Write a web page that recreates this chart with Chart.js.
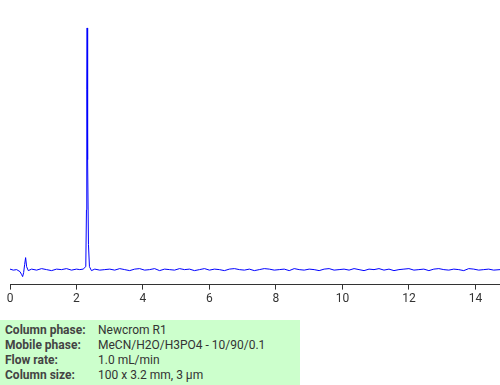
<!DOCTYPE html>
<html>
<head>
<meta charset="utf-8">
<script src="https://cdn.jsdelivr.net/npm/chart.js@4/dist/chart.umd.min.js"></script>
<style>
  body { margin: 0; width: 500px; height: 385px; background: #fff; position: relative; overflow: hidden; font-family: Roboto, "Open Sans", sans-serif; }
  #wrap { position: absolute; left: 0; top: 0; width: 500px; height: 308px; }
  #info { position: absolute; left: 0; top: 320px; width: 300px; height: 65px; background: #ccffcc; font-size: 12px; color: #333; }
  #info table { border-collapse: collapse; margin: 3px 0 0 5px; }
  #info td { padding: 0; height: 15px; line-height: 15px; }
  #info td.k { font-weight: bold; width: 93px; color: #444; }
</style>
</head>
<body>
<div id="wrap"><canvas id="chart"></canvas></div>
<div id="info">
  <table>
    <tr><td class="k">Column phase:</td><td>Newcrom R1</td></tr>
    <tr><td class="k">Mobile phase:</td><td>MeCN/H2O/H3PO4 - 10/90/0.1</td></tr>
    <tr><td class="k">Flow rate:</td><td>1.0 mL/min</td></tr>
    <tr><td class="k">Column size:</td><td>100 x 3.2 mm, 3 µm</td></tr>
  </table>
</div>
<script>
// retention time (min), early part incl. injection dip and main peak
const timesEarly = [0, 0.1, 0.2, 0.3, 0.35, 0.38, 0.41, 0.44, 0.47, 0.5, 0.55, 0.65, 0.8, 0.95, 1.1, 1.25, 1.4, 1.55, 1.7, 1.85,
  2.0, 2.1, 2.2, 2.28, 2.30, 2.31, 2.32, 2.33, 2.34, 2.36, 2.39, 2.45, 2.55, 2.7, 2.85];
const signalEarly = [0.5, -0.5, 0, -2, -5, -7, -3, 5, 12, 3, -1, 0.5, -0.5, 1, 0, -1, 0.5, 0, 1, -0.5,
  0.5, 0, 0.5, 3, 60, 180, 242, 200, 110, 25, 3, -1, 0.5, -0.5, 0];

// baseline after the peak
const timesLate = [3.0, 3.15, 3.3, 3.45, 3.6, 3.75, 3.9, 4.05, 4.2, 4.35, 4.5, 4.65, 4.8, 4.95, 5.1, 5.25, 5.4, 5.55, 5.7, 5.85,
  6.0, 6.15, 6.3, 6.45, 6.6, 6.75, 6.9, 7.05, 7.2, 7.35, 7.5, 7.65, 7.8, 7.95, 8.1, 8.25, 8.4, 8.55, 8.7, 8.85,
  9.0, 9.15, 9.3, 9.45, 9.6, 9.75, 9.9, 10.05, 10.2, 10.35, 10.5, 10.65, 10.8, 10.95, 11.1, 11.25, 11.4, 11.55, 11.7, 11.85,
  12.0, 12.15, 12.3, 12.45, 12.6, 12.75, 12.9, 13.05, 13.2, 13.35, 13.5, 13.65, 13.8, 13.95, 14.1, 14.25, 14.4, 14.55, 14.74];
const signalLate = [0.5, -0.5, 1, 0, -1, 0.5, 1, -0.5, 0, 1, -1, 0.5, 0, -0.5, 1, 0, 0.5, -1, 0, 1,
  -0.5, 0.5, 0, -1, 0.5, 1, 0, -0.5, 0.5, -1, 0, 1, 0.5, -0.5, 0, 0.5, -1, 1, 0, -0.5,
  0.5, 0, -1, 0.5, 1, -0.5, 0, 0.5, -0.5, 1, 0, -1, 0.5, 0, 1, -0.5, 0.5, -1, 0, 0.5,
  1, -0.5, 0, 0.5, -1, 0.5, 1, 0, -0.5, 0.5, 0, -1, 1, 0.5, -0.5, 0, 0.5, -0.5, 0];

const xTicks = [0, 2, 4, 6, 8, 10, 12, 14];

const times = timesEarly.concat(timesLate);
const signal = signalEarly.concat(signalLate);
const points = times.map((t, i) => ({ x: t, y: signal[i] }));

const ctx = document.getElementById("chart").getContext("2d");
new Chart(ctx, {
  type: "line",
  data: {
    datasets: [{
      data: points,
      borderColor: "#0000ff",
      borderWidth: 1,
      pointRadius: 0,
      tension: 0,
      fill: false
    }]
  },
  options: {
    responsive: true,
    maintainAspectRatio: false,
    animation: false,
    layout: { padding: { left: 10, right: 0, top: 0, bottom: 0 } },
    plugins: { legend: { display: false }, tooltip: { enabled: false } },
    scales: {
      x: {
        type: "linear",
        min: 0,
        max: 14.74,
        afterBuildTicks: (axis) => { axis.ticks = xTicks.map(v => ({ value: v })); },
        ticks: { color: "#333", font: { family: "Roboto", size: 12 }, padding: 2, maxRotation: 0 },
        grid: { drawOnChartArea: false, drawTicks: true, tickLength: 5, color: "#333" },
        border: { color: "#333", width: 1 }
      },
      y: {
        display: false,
        min: -15,
        max: 270
      }
    }
  }
});
</script>
</body>
</html>
